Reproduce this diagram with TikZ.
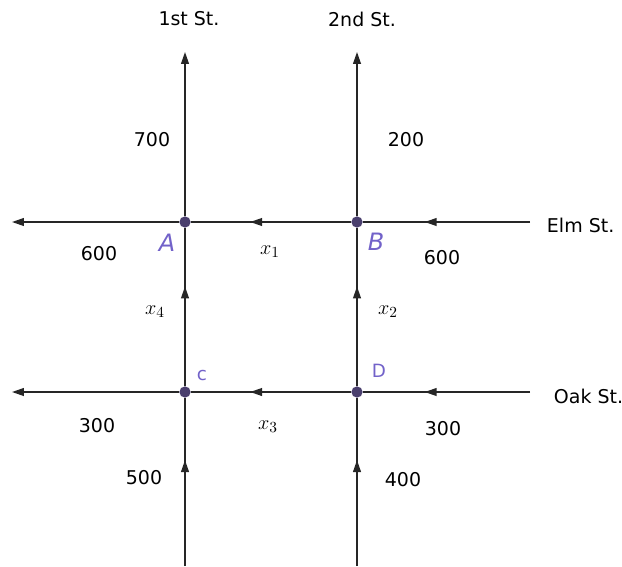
\documentclass[tikz,border=0pt]{standalone}
\usepackage{amsmath,amssymb}
\usepackage{fontspec}
\setmainfont{DejaVu Sans}
\usetikzlibrary{arrows.meta,decorations.markings}

\definecolor{dotpurple}{HTML}{4A3F6E}
\definecolor{handpurple}{HTML}{7262C9}

\tikzset{
  tip/.tip={Triangle[length=8.5pt,width=5.6pt]},
  road/.style={line width=1.05pt, draw=black!85},
  flow/.style={road, postaction={decorate}, decoration={markings,
      mark=at position 0.63 with {\arrow{tip}}}},
  crossing/.style={circle, fill=dotpurple, inner sep=0pt, minimum size=8pt},
  hand/.style={text=handpurple, font=\fontsize{17}{17}\selectfont\itshape},
  handsmall/.style={hand, font=\fontsize{13}{13}\selectfont},
  lbl/.style={font=\fontsize{13.5}{16}\selectfont},
  var/.style={font=\fontsize{15}{18}\selectfont},
}

\begin{document}
\begin{tikzpicture}[>=tip, x=0.025cm, y=-0.025cm]
    \useasboundingbox (0,0) rectangle (622,566);

    % ends of the streets
    \coordinate (s1) at (185,566);
    \coordinate (s2) at (357,566);
    \coordinate (n1) at (185,52);
    \coordinate (n2) at (357,52);
    \coordinate (eElm) at (530,222);
    \coordinate (eOak) at (530,392);
    \coordinate (wElm) at (12,222);
    \coordinate (wOak) at (12,392);

    % intersections
    \node[crossing] (A) at (185,222) {};
    \node[crossing] (B) at (357,222) {};
    \node[crossing] (C) at (185,392) {};
    \node[crossing] (D) at (357,392) {};

    % 1st St. and 2nd St.
    \draw[flow] (s1) -- (C);
    \draw[flow] (C) -- (A);
    \draw[road,->] (A) -- (n1);
    \draw[flow] (s2) -- (D);
    \draw[flow] (D) -- (B);
    \draw[road,->] (B) -- (n2);

    % Elm St. and Oak St.
    \draw[flow] (eElm) -- (B);
    \draw[flow] (B) -- (A);
    \draw[road,->] (A) -- (wElm);
    \draw[flow] (eOak) -- (D);
    \draw[flow] (D) -- (C);
    \draw[road,->] (C) -- (wOak);

    % street names
    \node[lbl] (first) at (189,19) {1st St.};
    \node[lbl] (second) at (362,19) {2nd St.};
    \node[lbl, anchor=west] (elm) at (542,225) {Elm St.};
    \node[lbl, anchor=west] (oak) at (549,396) {Oak St.};

    % traffic volumes
    \node[lbl] (v700) at (152,140) {700};
    \node[lbl] (v200) at (406,140) {200};
    \node[lbl] (v600w) at (99,254) {600};
    \node[lbl] (v600e) at (442,258) {600};
    \node[lbl] (v300w) at (97,426) {300};
    \node[lbl] (v300e) at (443,429) {300};
    \node[lbl] (v500) at (144,478) {500};
    \node[lbl] (v400) at (403,480) {400};

    % unknowns
    \node[var] (x1) at (270,252) {$x_1$};
    \node[var] (x2) at (388,312) {$x_2$};
    \node[var] (x3) at (268,427) {$x_3$};
    \node[var] (x4) at (155,312) {$x_4$};

    % handwritten letters
    \node[hand] (lA) at (167,243) {A};
    \node[hand] (lB) at (376,242) {B};
    \node[handsmall] (lC) at (202,376) {c};
    \node[handsmall] (lD) at (379,371) {D};
\end{tikzpicture}
\end{document}
